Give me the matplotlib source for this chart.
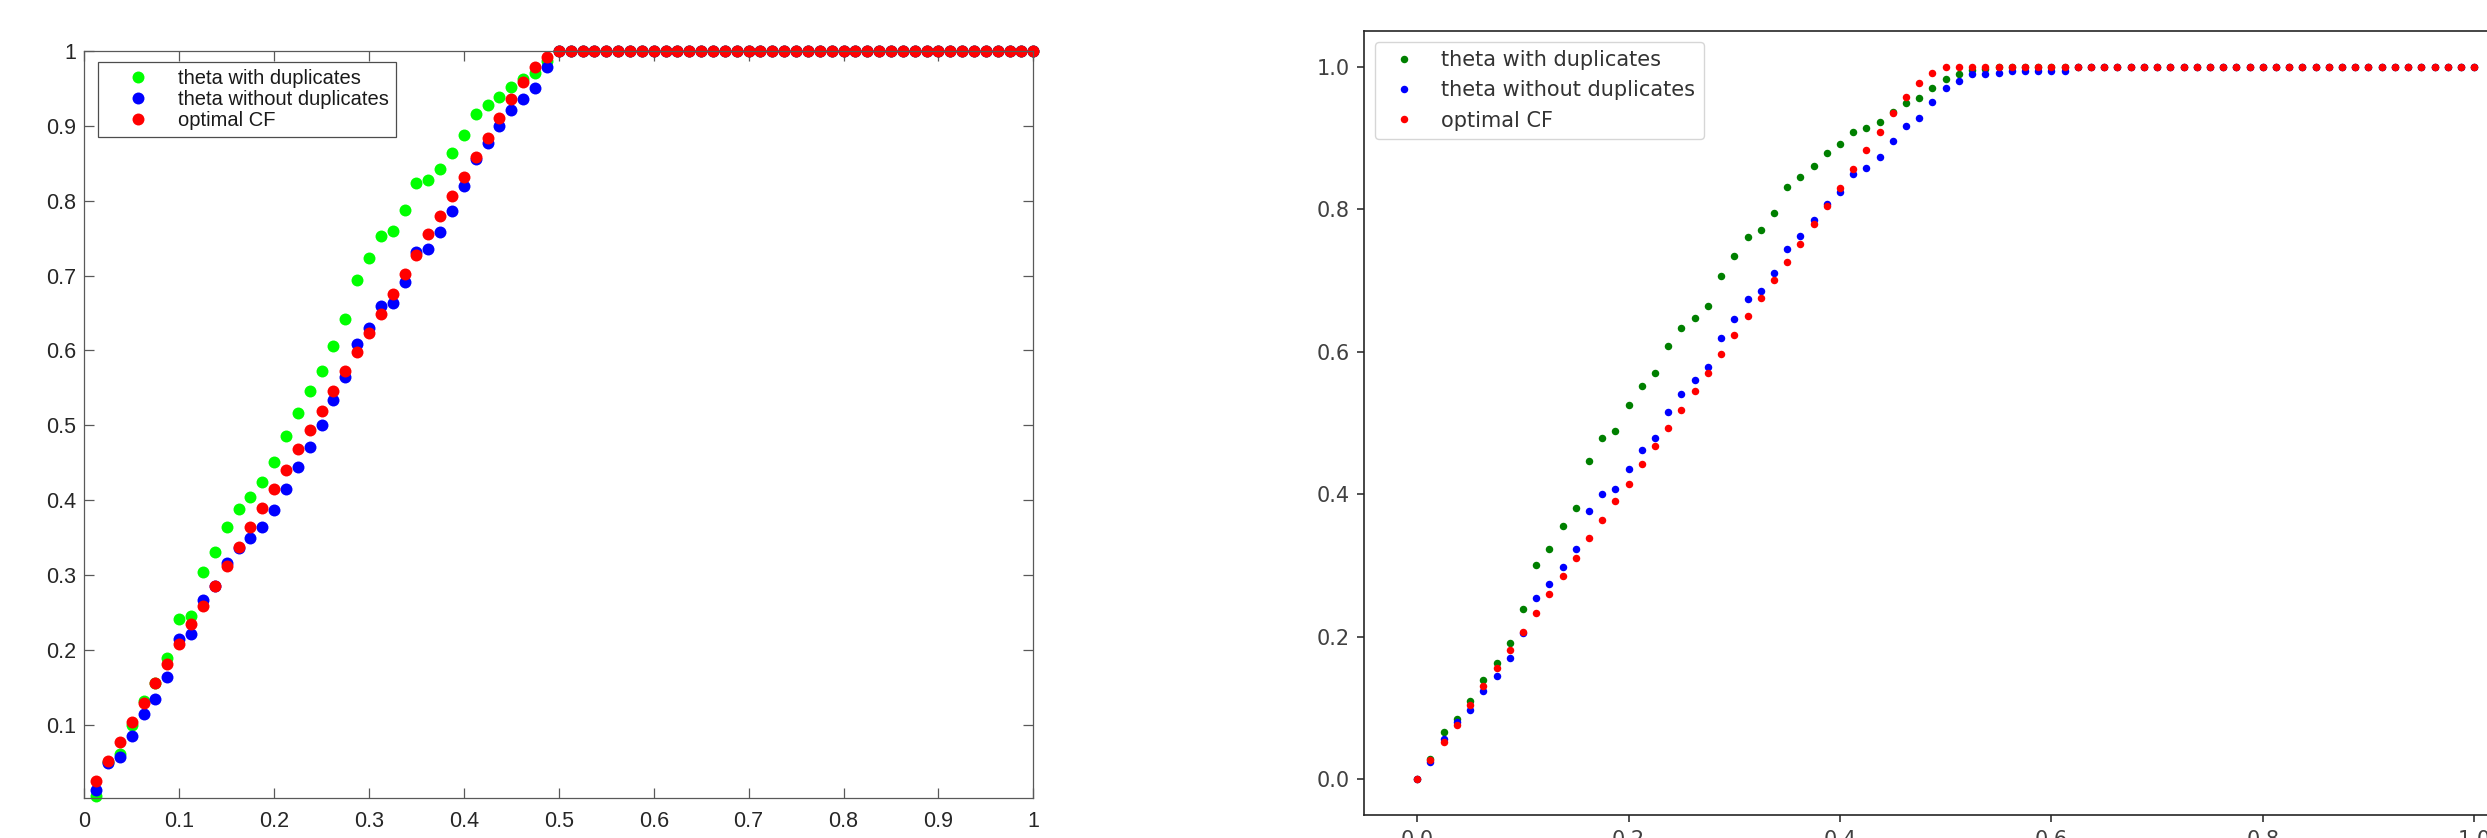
import numpy as np
import matplotlib
matplotlib.use("Agg")
import matplotlib.pyplot as plt

# left panel (MATLAB-style run): x = 1/80 .. 1
left_x = np.arange(1, 81) / 80
left_green = [0.005, 0.051, 0.061, 0.100, 0.132, 0.156, 0.190, 0.241, 0.246, 0.305,
              0.331, 0.364, 0.389, 0.404, 0.424, 0.451, 0.486, 0.516, 0.546, 0.572,
              0.606, 0.642, 0.694, 0.724, 0.753, 0.759, 0.787, 0.823, 0.827, 0.842,
              0.864, 0.887, 0.915, 0.928, 0.939, 0.952, 0.962, 0.970, 0.987] + [1.0] * 41
left_blue = [0.013, 0.050, 0.058, 0.085, 0.115, 0.135, 0.164, 0.215, 0.221, 0.267,
             0.285, 0.316, 0.336, 0.350, 0.364, 0.387, 0.415, 0.445, 0.471, 0.500,
             0.534, 0.564, 0.608, 0.630, 0.659, 0.664, 0.692, 0.731, 0.735, 0.758,
             0.786, 0.820, 0.856, 0.877, 0.900, 0.921, 0.935, 0.950, 0.979] + [1.0] * 41
left_red = [0.026, 0.052, 0.078, 0.104, 0.129, 0.156, 0.182, 0.208, 0.235, 0.259,
            0.285, 0.312, 0.338, 0.364, 0.390, 0.415, 0.441, 0.468, 0.494, 0.519,
            0.546, 0.572, 0.598, 0.624, 0.649, 0.676, 0.702, 0.728, 0.755, 0.779,
            0.806, 0.832, 0.858, 0.883, 0.910, 0.935, 0.959, 0.978, 0.992] + [1.0] * 41

# right panel (matplotlib run): x = 0 .. 1 in steps of 1/80
right_x = np.arange(0, 81) / 80
right_green = [0.0, 0.029, 0.066, 0.085, 0.110, 0.139, 0.164, 0.191, 0.239, 0.301,
               0.323, 0.356, 0.381, 0.447, 0.479, 0.489, 0.525, 0.552, 0.571, 0.608,
               0.634, 0.648, 0.665, 0.707, 0.735, 0.761, 0.771, 0.795, 0.831, 0.846,
               0.861, 0.879, 0.892, 0.909, 0.914, 0.922, 0.937, 0.949, 0.956, 0.970,
               0.983, 0.990, 0.995, 0.997] + [1.0] * 37
right_blue = [0.0, 0.024, 0.057, 0.080, 0.098, 0.124, 0.145, 0.171, 0.205, 0.255,
              0.274, 0.298, 0.323, 0.377, 0.400, 0.408, 0.436, 0.462, 0.479, 0.515,
              0.541, 0.561, 0.579, 0.620, 0.646, 0.674, 0.685, 0.710, 0.744, 0.763,
              0.785, 0.808, 0.825, 0.850, 0.858, 0.873, 0.896, 0.917, 0.928, 0.950,
              0.970, 0.980, 0.990, 0.990, 0.991, 0.994, 0.994, 0.994, 0.994, 0.994] + [1.0] * 31
right_red = [0.0, 0.027, 0.052, 0.077, 0.105, 0.131, 0.157, 0.181, 0.207, 0.234,
             0.260, 0.285, 0.311, 0.339, 0.364, 0.390, 0.415, 0.442, 0.468, 0.493,
             0.518, 0.545, 0.571, 0.597, 0.623, 0.650, 0.675, 0.701, 0.726, 0.752,
             0.779, 0.805, 0.830, 0.856, 0.883, 0.909, 0.935, 0.958, 0.977, 0.992] + [1.0] * 41

labels = ["theta with duplicates", "theta without duplicates", "optimal CF"]

W, H = 2487, 838
fig = plt.figure(figsize=(W / 100, H / 100), dpi=100)

# ---- left: MATLAB look ----
axl = fig.add_axes([84.3 / W, (H - 798.3) / H, 949 / W, 747.5 / H])
for y, c, lab in zip([left_green, left_blue, left_red], ["#00ff00", "#0000ff", "#ff0000"], labels):
    axl.plot(left_x, y, "o", color=c, markersize=8.6, markeredgewidth=0,
             linestyle="none", label=lab, clip_on=False)
axl.set_xlim(0, 1)
axl.set_ylim(0.0023, 1)
xt = np.arange(0, 11) / 10
yt = np.arange(1, 11) / 10
axl.set_xticks(xt)
axl.set_xticklabels(["0"] + [f"{v:.1f}" for v in xt[1:-1]] + ["1"])
axl.set_yticks(yt)
axl.set_yticklabels([f"{v:.1f}" for v in yt[:-1]] + ["1"])
for s in axl.spines.values():
    s.set_color("0.35")
    s.set_linewidth(0.9)
axl.tick_params(direction="in", length=7, width=0.9, color="0.35", top=True, right=True,
                labelsize=15.5, labelcolor="0.15")
axl.tick_params(axis="x", pad=9)
axl.tick_params(axis="y", pad=6)
for t in axl.get_xticklabels() + axl.get_yticklabels():
    t.set_fontfamily("Liberation Sans")
legl = axl.legend(loc="upper left", bbox_to_anchor=(0.0141, 0.9854), borderaxespad=0,
                  prop={"family": "Liberation Sans", "size": 14.5}, fancybox=False,
                  framealpha=1, edgecolor="0.3", borderpad=0.35, handlelength=3.3,
                  handletextpad=0.35, labelspacing=0.1, numpoints=1)
legl.get_frame().set_linewidth(0.9)
for t in legl.get_texts():
    t.set_color("0.1")

# ---- right: matplotlib look (cut at figure edge) ----
axr = fig.add_axes([1364.4 / W, (H - 815) / H, (2527 - 1364.4) / W, (815 - 31.2) / H])
for y, c, lab in zip([right_green, right_blue, right_red], ["g", "b", "r"], labels):
    axr.plot(right_x, y, "o", color=c, markersize=5.4, markeredgewidth=0,
             linestyle="none", label=lab)
axr.set_xlim(-0.05, 1.05)
axr.set_ylim(-0.05, 1.05)
for s in axr.spines.values():
    s.set_linewidth(1.2)
    s.set_color("0.15")
axr.tick_params(length=5.25, width=1.2, pad=5.25, labelsize=15, labelcolor="0.25", color="0.2")
legr = axr.legend(loc="upper left", fontsize=15, numpoints=1)
for t in legr.get_texts():
    t.set_color("0.2")

fig.savefig("out.png", dpi=100)
